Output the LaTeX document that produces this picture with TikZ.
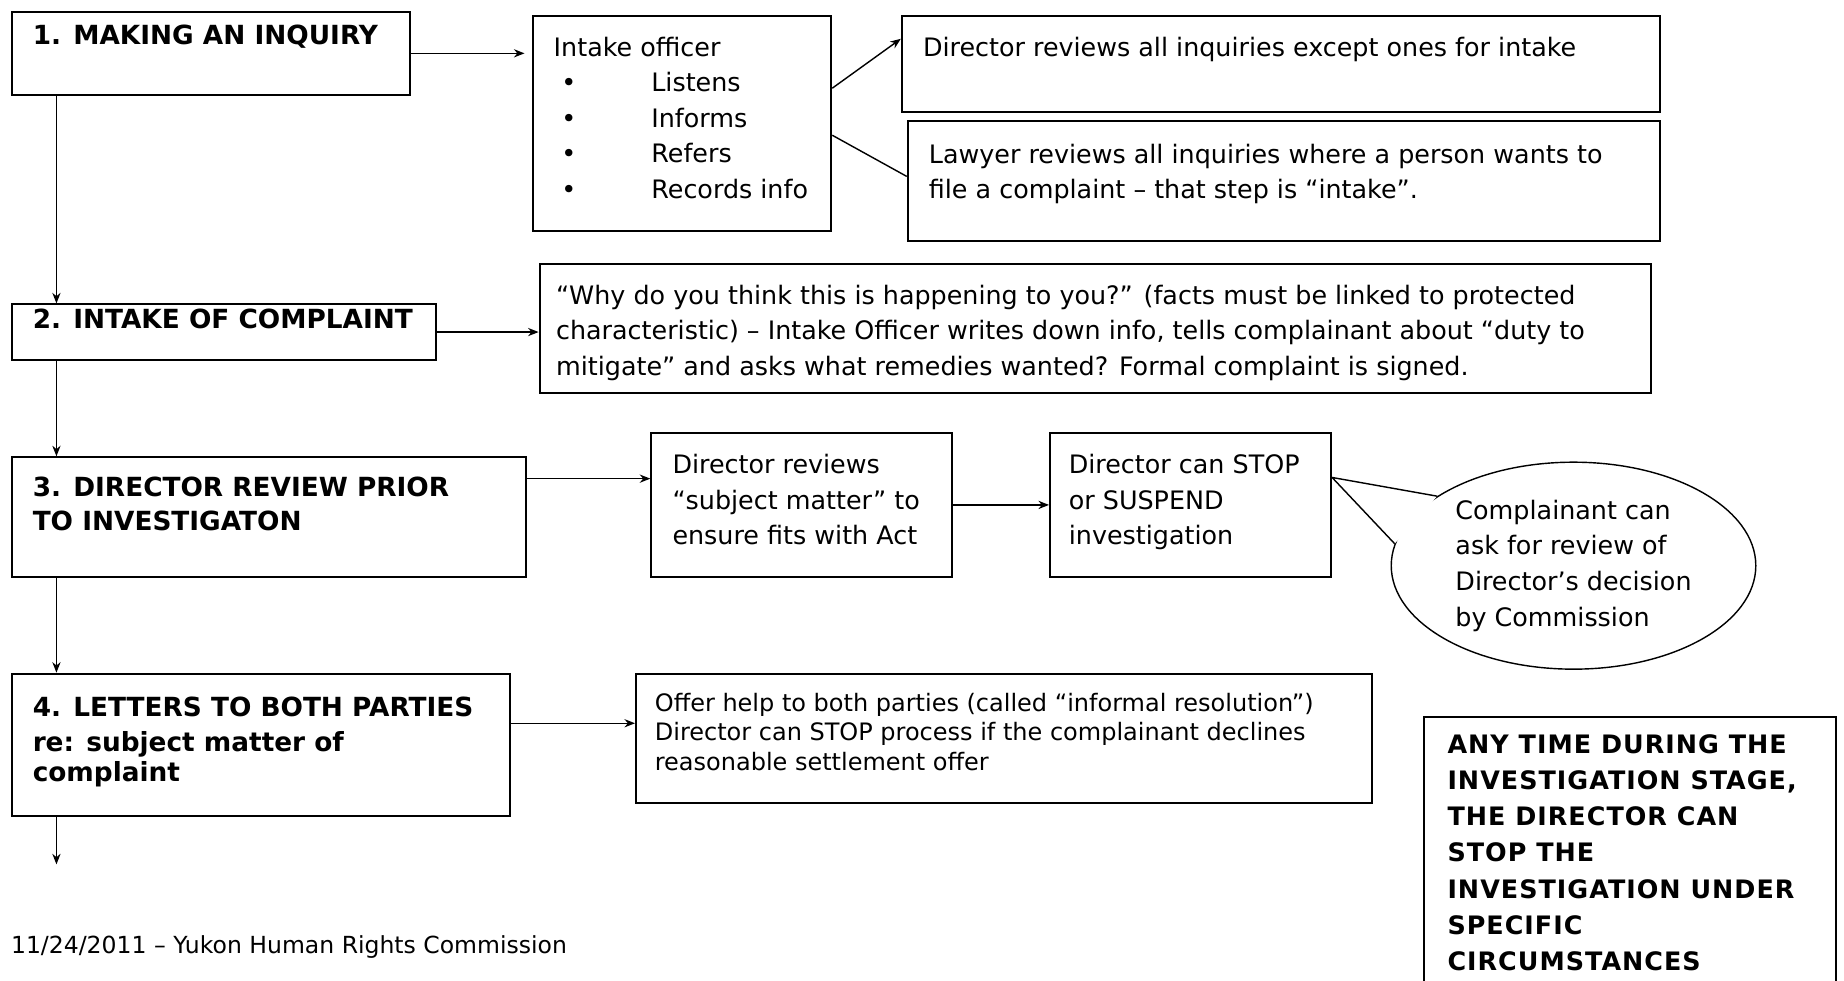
\documentclass[tikz,border=0pt]{standalone}
\usepackage{fontspec}
\setmainfont{DejaVu Sans}
\usetikzlibrary{arrows.meta,shapes.geometric}
\newcommand{\bodyfont}{\fontsize{10.8}{15.15}\selectfont}
\newcommand{\headfont}{\fontsize{11.2}{14.5}\selectfont\bfseries}
\newcommand{\celltext}[4]{\parbox[t][#2][t]{#1}{\vspace*{#3}\begin{tabular}[t]{@{}l@{}}#4\end{tabular}}}
\newcommand{\bul}{\hspace*{3.3pt}\makebox[38.2pt][l]{\textbullet}}
\tikzset{
  stepbox/.style={draw, line width=0.85pt, anchor=north west, inner xsep=9pt, inner ysep=0pt, font=\bodyfont},
  headbox/.style={stepbox, font=\headfont},
  flow/.style={line width=0.6pt, -{Stealth[length=4.5pt,width=3.5pt]}},
  link/.style={line width=0.6pt},
}
\begin{document}
\begin{tikzpicture}[x=0.5pt,y=-0.5pt]
  \useasboundingbox (0,0) rectangle (1568,834);
  \clip (0,0) rectangle (1568,834);
  % steps
  \node[headbox] (inquiry) at (9,9) {\celltext{151.5pt}{35.5pt}{4pt}{1. MAKING AN INQUIRY}};
  \node[headbox] (intake) at (9,258) {\celltext{162.5pt}{23.5pt}{0pt}{2. INTAKE OF COMPLAINT}};
  \node[headbox] (review) at (9,388) {\celltext{200.5pt}{51pt}{6.5pt}{3. DIRECTOR REVIEW PRIOR\\TO INVESTIGATON}};
  \node[headbox, font=\fontsize{11.2}{12.5}\selectfont\bfseries] (letters) at (9,572)
    {\celltext{194pt}{60.5pt}{9.4pt}{4. LETTERS TO BOTH PARTIES\\[2.5pt]re: subject matter of\\complaint}};
  \coordinate (next) at (48,735);
  % details
  \node[stepbox] (officer) at (452,13)
    {\celltext{109pt}{91.5pt}{6.3pt}{Intake officer\\\bul Listens\\\bul Informs\\\bul Refers\\\bul Records info}};
  \node[stepbox] (director) at (766,13)
    {\celltext{304.5pt}{40.5pt}{6.3pt}{Director reviews all inquiries except ones for intake}};
  \node[stepbox] (lawyer) at (771,102)
    {\celltext{302pt}{51pt}{7.3pt}{Lawyer reviews all inquiries where a person wants to\\file a complaint – that step is “intake”.}};
  \node[stepbox, inner xsep=7pt] (why) at (458,224)
    {\celltext{458.5pt}{54.5pt}{6.3pt}{“Why do you think this is happening to you?” (facts must be linked to protected\\characteristic) – Intake Officer writes down info, tells complainant about “duty to\\mitigate” and asks what remedies wanted? Formal complaint is signed.}};
  \node[stepbox] (subject) at (553,367)
    {\celltext{110pt}{61.5pt}{6.8pt}{Director reviews\\“subject matter” to\\ensure fits with Act}};
  \node[stepbox, inner xsep=8pt] (stop) at (892,367)
    {\celltext{103.5pt}{61.5pt}{6.8pt}{Director can STOP\\or SUSPEND\\investigation}};
  \node[stepbox, inner xsep=8pt, font=\fontsize{10.2}{12.5}\selectfont] (offer) at (540,572)
    {\celltext{297pt}{55pt}{7.2pt}{Offer help to both parties (called “informal resolution”)\\Director can STOP process if the complainant declines\\reasonable settlement offer}};
  \node[stepbox, inner xsep=10pt, font=\fontsize{10.8}{15.4}\selectfont\bfseries\addfontfeature{LetterSpace=4}] (anytime) at (1210,609)
    {\celltext{155pt}{140pt}{4.5pt}{ANY TIME DURING THE\\INVESTIGATION STAGE,\\THE DIRECTOR CAN\\STOP THE\\INVESTIGATION UNDER\\SPECIFIC\\CIRCUMSTANCES}};
  % callout
  \node[draw, ellipse, line width=0.6pt, minimum width=155pt, minimum height=88pt, inner sep=0pt,
    align=left, font=\bodyfont] (appeal) at (1338,481)
    {Complainant can\\ask for review of\\Director’s decision\\by Commission};
  \fill[white] ([yshift=-19.5pt]stop.north east) -- (appeal.153) -- (appeal.173) -- cycle;
  \draw[link] (appeal.153) -- ([yshift=-19.5pt]stop.north east) -- (appeal.173);
  % connectors
  \foreach \a/\b in {inquiry/intake, intake/review, review/letters}
    \draw[flow] ([xshift=19.5pt]\a.south west) -- ([xshift=19.5pt]\b.north west);
  \draw[flow] ([xshift=19.5pt]letters.south west) -- (next);
  \draw[flow, shorten >=3pt] (inquiry.east) -- (inquiry.east -| officer.west);
  \draw[flow] ([yshift=-31pt]officer.north east) -- ([yshift=-10pt]director.north west);
  \draw[link] ([yshift=-51pt]officer.north east) -- ([yshift=-24pt]lawyer.north west);
  \draw[flow] (intake.east) -- (intake.east -| why.west);
  \draw[flow] ([yshift=-9.5pt]review.north east) -- ([yshift=-9.5pt]review.north east -| subject.west);
  \draw[flow] (subject.east) -- (stop.west);
  \draw[flow] ([yshift=-21.5pt]letters.north east) -- ([yshift=-21.5pt]letters.north east -| offer.west);
  \node[anchor=west, inner sep=0pt, font=\fontsize{10}{12}\selectfont] (footer) at (9,805)
    {11/24/2011 – Yukon Human Rights Commission};
\end{tikzpicture}
\end{document}
